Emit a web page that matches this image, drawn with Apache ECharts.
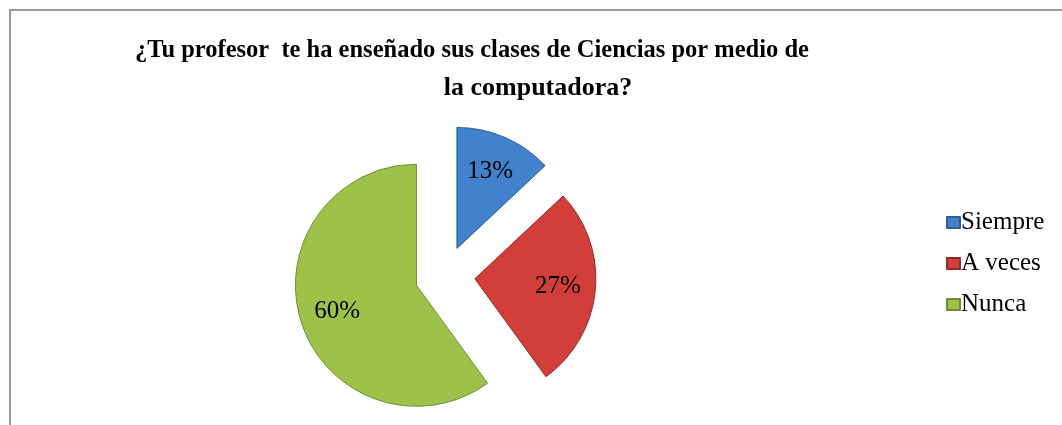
<!DOCTYPE html>
<html>
<head>
<meta charset="utf-8">
<script src="https://cdn.jsdelivr.net/npm/echarts@6/dist/echarts.min.js"></script>
<style>
html,body{margin:0;padding:0;background:#fff;}
#c{width:1062px;height:425px;}
</style>
</head>
<body>
<div id="c"></div>
<script>
const categories = ['Siempre', 'A veces', 'Nunca'];
const values = [13, 27, 60];
const colors = ['#4281cc', '#d23f3b', '#9cc24a'];
const borderColors = ['#2d5e98', '#8e2b28', '#6e8d32'];
const titleLine1 = '¿Tu profesor  te ha enseñado sus clases de Ciencias por medio de';
const titleLine2 = 'la computadora?';

const chart = echarts.init(document.getElementById('c'), null, {renderer: 'canvas'});

const mainData = categories.map((name, i) => ({
  name: name,
  value: values[i],
  selected: true,
  itemStyle: {
    color: colors[i],
    borderColor: borderColors[i],
    borderWidth: 1
  }
}));
const labelData = categories.map((name, i) => ({
  name: name,
  value: values[i],
  selected: true
}));

const center = [445, 276];
const R = 121;

chart.setOption({
  animation: false,
  backgroundColor: '#fff',
  title: [
    {text: titleLine1, left: 467, top: 33, textAlign: 'center',
     textStyle: {fontFamily: 'Liberation Serif', fontWeight: 'bold', fontSize: 24.5, color: '#000'}},
    {text: titleLine2, left: 533, top: 70, textAlign: 'center',
     textStyle: {fontFamily: 'Liberation Serif', fontWeight: 'bold', fontSize: 26, color: '#000'}}
  ],
  legend: {
    orient: 'vertical',
    left: 941,
    top: 205,
    itemWidth: 13,
    itemHeight: 11,
    itemGap: 16,
    icon: 'rect',
    data: categories,
    selectedMode: false,
    textStyle: {fontFamily: 'Liberation Serif', fontSize: 25, color: '#000', padding: [0, 0, 0, -4]}
  },
  graphic: [
    {type: 'polyline', silent: true,
     shape: {points: [[10, 425], [10, 10], [1062, 10]]},
     style: {stroke: '#999', lineWidth: 2, fill: null}}
  ],
  series: [
    {
      type: 'pie',
      center: center,
      radius: [0, R],
      startAngle: 90,
      clockwise: true,
      selectedMode: 'multiple',
      selectedOffset: 30,
      label: {show: false},
      labelLine: {show: false},
      emphasis: {disabled: true},
      data: mainData
    },
    {
      type: 'pie',
      center: center,
      radius: [40, R],
      startAngle: 90,
      clockwise: true,
      silent: true,
      selectedMode: 'multiple',
      selectedOffset: 30,
      itemStyle: {color: 'rgba(0,0,0,0)'},
      label: {show: true, position: 'inside', formatter: '{d}%',
        fontFamily: 'Liberation Serif', fontSize: 25, color: '#000'},
      labelLine: {show: false},
      emphasis: {disabled: true},
      legendHoverLink: false,
      data: labelData
    }
  ]
});
</script>
</body>
</html>
